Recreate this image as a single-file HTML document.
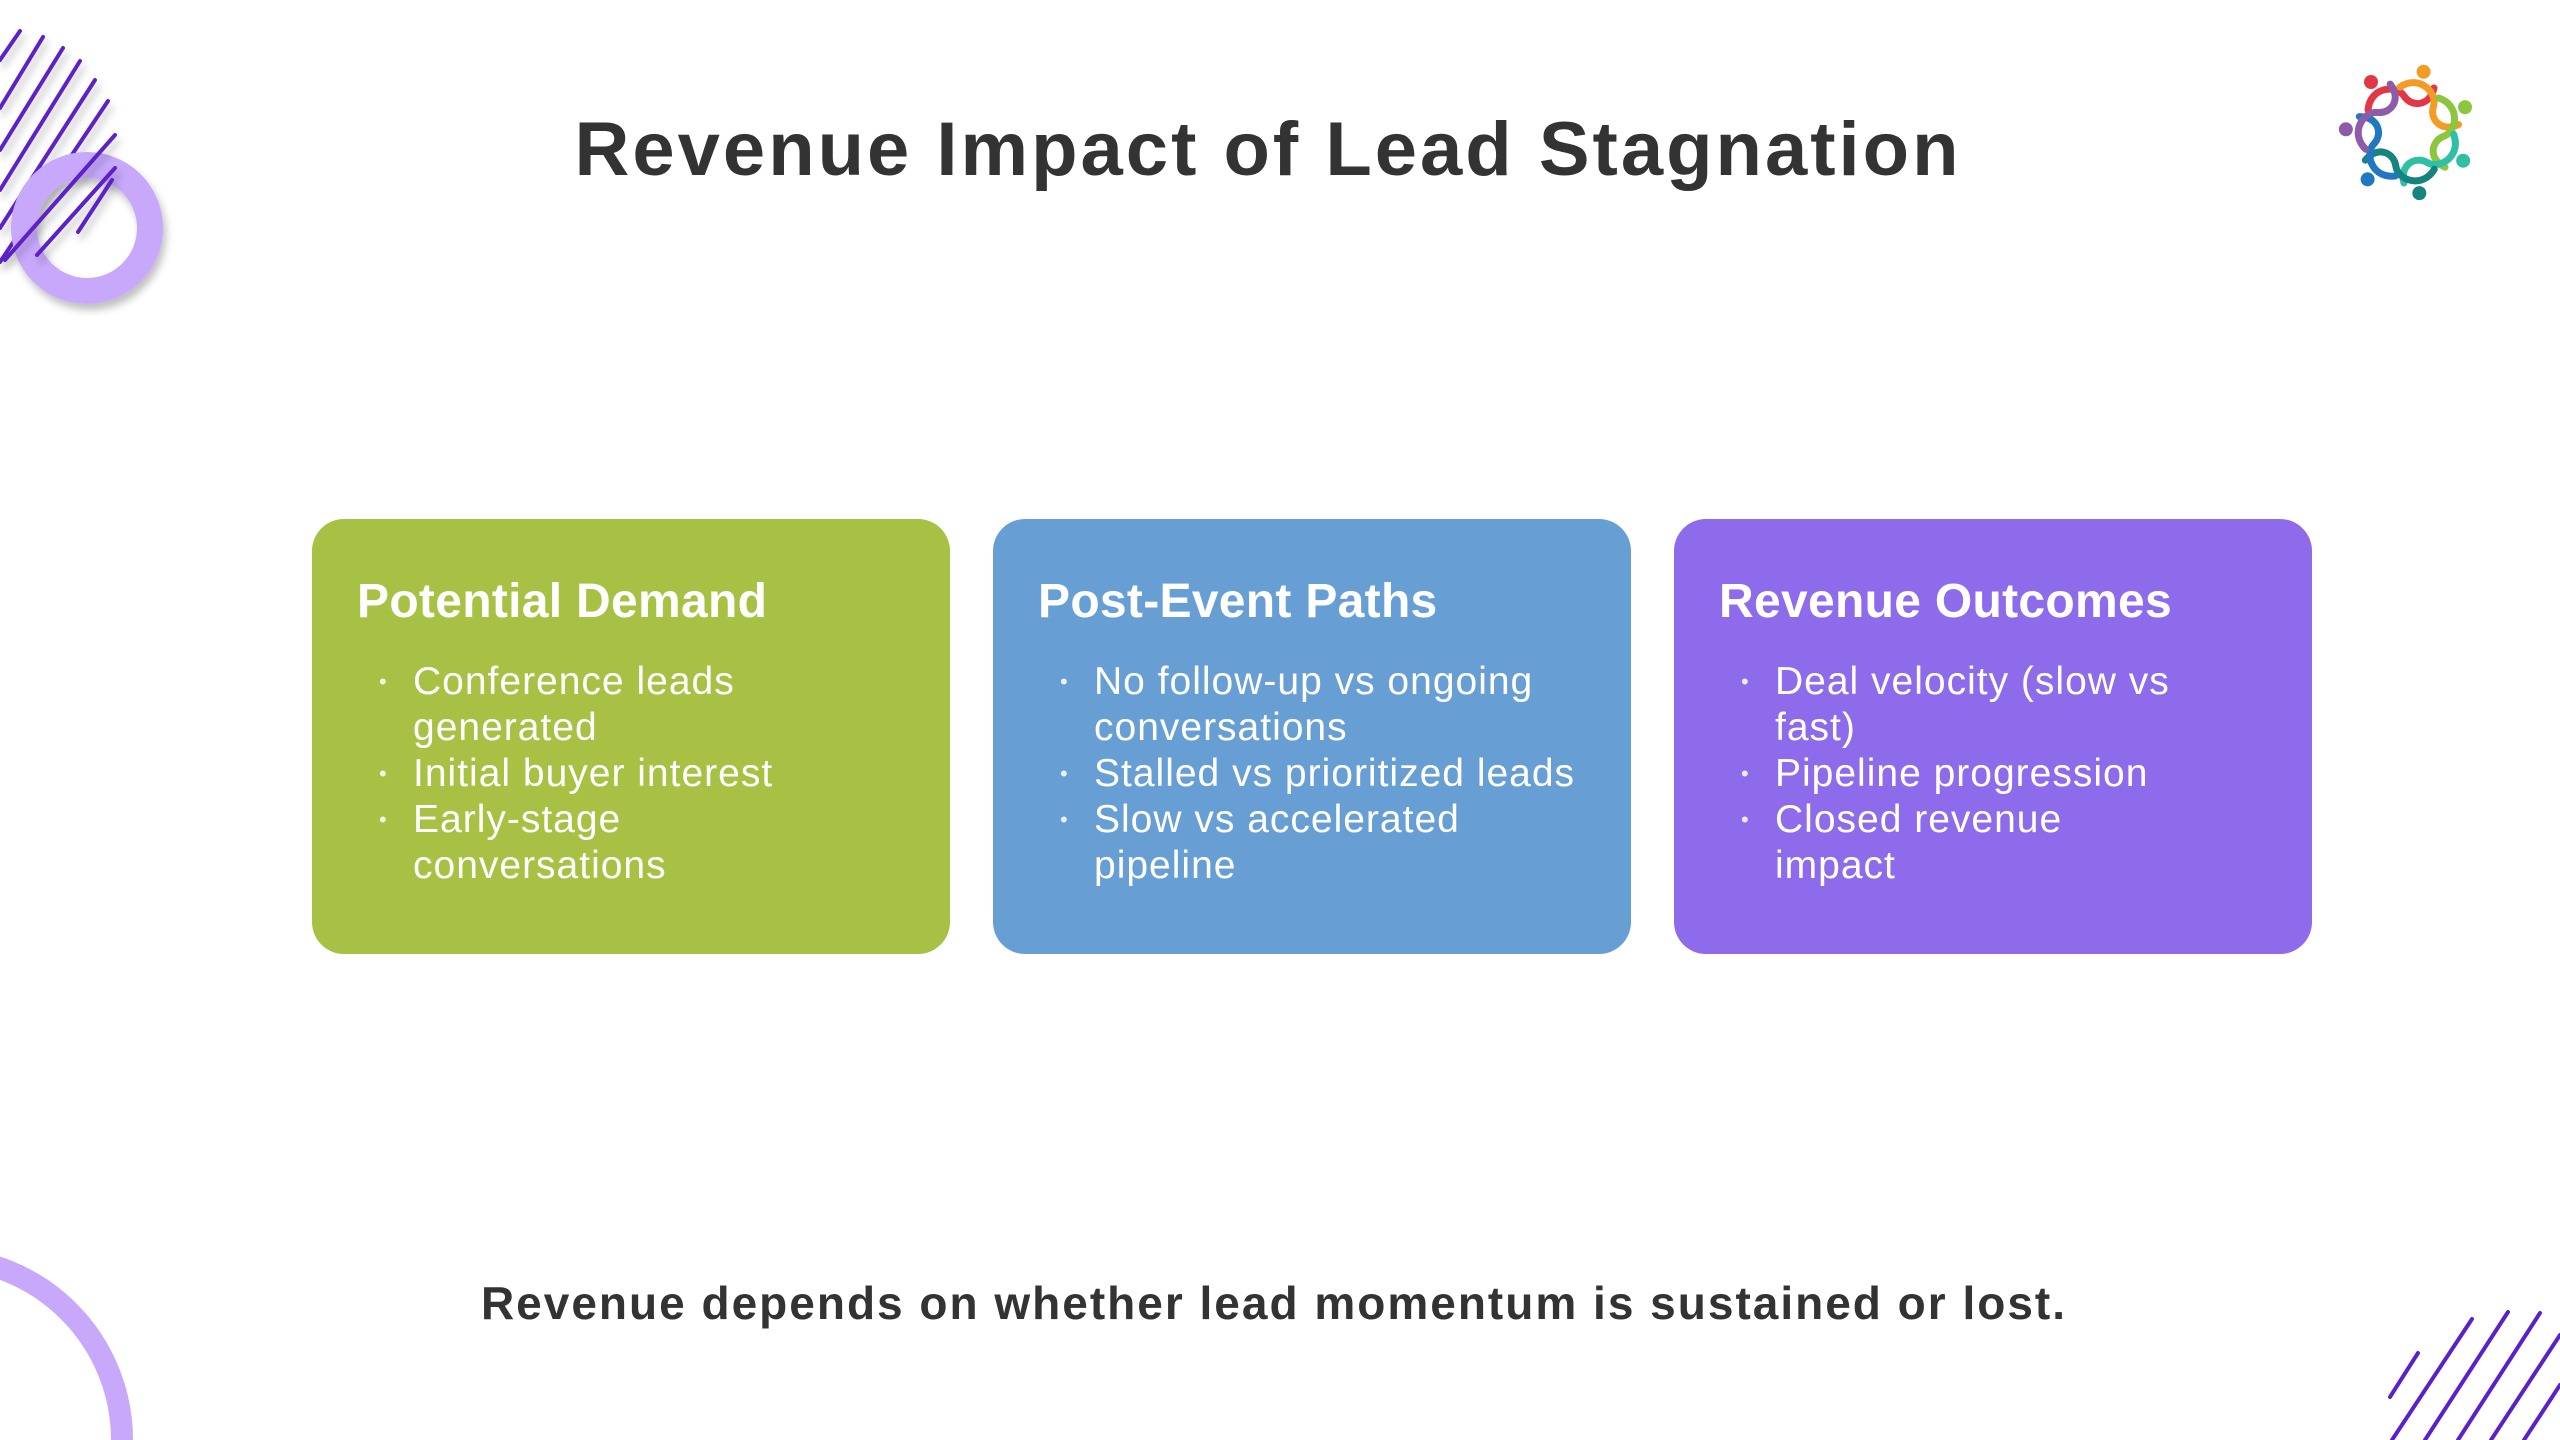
<!DOCTYPE html>
<html><head><meta charset="utf-8"><style>
html,body{margin:0;padding:0;overflow:hidden;width:2560px;height:1440px}
body{position:relative;background:#fff;font-family:"Liberation Sans",sans-serif;color:#333}
svg{display:block}
.title{position:absolute;left:0;width:2536px;top:106px;text-align:center;font-size:76px;letter-spacing:3px;font-weight:bold;color:#333;white-space:nowrap}
.foot{position:absolute;left:0;width:2548px;top:1276px;text-align:center;font-size:46px;letter-spacing:2px;font-weight:bold;color:#333;white-space:nowrap}
.card{position:absolute;top:519px;width:638px;height:435px;border-radius:32px;color:#fff;box-sizing:border-box;padding:56px 0 0 45px;overflow:hidden}
.card h2{margin:0;font-size:48px;letter-spacing:0.3px;font-weight:bold;line-height:54px}
.card ul{margin:30px 0 0 0;padding:0 0 0 56px;list-style:none;font-size:39px;letter-spacing:1px;line-height:46px}
.card li{position:relative;white-space:nowrap}
.card li:before{content:"•";position:absolute;left:-34px;font-size:22px;opacity:.85}
</style></head><body>
<svg width="2560" height="1440" style="position:absolute;left:0;top:0">
<defs><filter id="sh" x="-20%" y="-20%" width="140%" height="140%"><feDropShadow dx="3" dy="6" stdDeviation="4" flood-color="#000" flood-opacity="0.25"/></filter></defs>
<g stroke="#5b21c8" stroke-width="4" stroke-linecap="round" filter="url(#sh)">
<line x1="0" y1="60" x2="20" y2="31"/>
<line x1="0" y1="108" x2="43" y2="37"/>
<line x1="0" y1="150" x2="63" y2="48"/>
<line x1="0" y1="190" x2="80" y2="61"/>
<line x1="0" y1="228" x2="95" y2="80"/>
<line x1="0" y1="262" x2="108" y2="101"/>
</g>
<circle cx="87" cy="228" r="63" fill="none" stroke="#c7a8fb" stroke-width="26" filter="url(#sh)"/>
<g stroke="#5b21c8" stroke-width="4" stroke-linecap="round" filter="url(#sh)">
<line x1="5" y1="260" x2="115" y2="135"/>
<line x1="37" y1="255" x2="115" y2="168"/>
<line x1="78" y1="232" x2="112" y2="180"/>
</g>
<circle cx="-60" cy="1440" r="182" fill="none" stroke="#c7a8fb" stroke-width="22"/>
<g stroke="#5b21c8" stroke-width="4" stroke-linecap="round">
<line x1="2390" y1="1397" x2="2418" y2="1353"/>
<line x1="2392" y1="1440" x2="2472" y2="1319"/>
<line x1="2425" y1="1440" x2="2508" y2="1312"/>
<line x1="2458" y1="1440" x2="2540" y2="1313"/>
<line x1="2491" y1="1440" x2="2560" y2="1335"/>
<line x1="2524" y1="1440" x2="2560" y2="1385"/>
</g>
<g transform="translate(2408,132)" fill="none" stroke-width="7" stroke-linecap="round">
<g><path d="M-40,-22 C-38,-45 -12,-48 -4,-36 C4,-24 22,-26 26,-44" stroke="#e23744"/><circle cx="-37" cy="-50" r="7" fill="#e23744" stroke="none"/></g>
<g transform="rotate(51)"><path d="M-40,-22 C-38,-45 -12,-48 -4,-36 C4,-24 22,-26 26,-44" stroke="#f39c25"/><circle cx="-37" cy="-50" r="7" fill="#f39c25" stroke="none"/></g>
<g transform="rotate(103)"><path d="M-40,-22 C-38,-45 -12,-48 -4,-36 C4,-24 22,-26 26,-44" stroke="#8cc63f"/><circle cx="-37" cy="-50" r="7" fill="#8cc63f" stroke="none"/></g>
<g transform="rotate(154)"><path d="M-40,-22 C-38,-45 -12,-48 -4,-36 C4,-24 22,-26 26,-44" stroke="#2ebfa5"/><circle cx="-37" cy="-50" r="7" fill="#2ebfa5" stroke="none"/></g>
<g transform="rotate(206)"><path d="M-40,-22 C-38,-45 -12,-48 -4,-36 C4,-24 22,-26 26,-44" stroke="#16847e"/><circle cx="-37" cy="-50" r="7" fill="#16847e" stroke="none"/></g>
<g transform="rotate(257)"><path d="M-40,-22 C-38,-45 -12,-48 -4,-36 C4,-24 22,-26 26,-44" stroke="#1f78c1"/><circle cx="-37" cy="-50" r="7" fill="#1f78c1" stroke="none"/></g>
<g transform="rotate(309)"><path d="M-40,-22 C-38,-45 -12,-48 -4,-36 C4,-24 22,-26 26,-44" stroke="#8e5ba8"/><circle cx="-37" cy="-50" r="7" fill="#8e5ba8" stroke="none"/></g>
</g>
</svg>
<div class="title">Revenue Impact of Lead Stagnation</div>
<div class="card" style="left:312px;background:#a6c143">
<h2>Potential Demand</h2>
<ul><li>Conference leads<br>generated</li><li>Initial buyer interest</li><li>Early-stage<br>conversations</li></ul></div>
<div class="card" style="left:993px;background:#679fd5">
<h2>Post-Event Paths</h2>
<ul><li>No follow-up vs ongoing<br>conversations</li><li>Stalled vs prioritized leads</li><li>Slow vs accelerated<br>pipeline</li></ul></div>
<div class="card" style="left:1674px;background:#8e6bea">
<h2>Revenue Outcomes</h2>
<ul><li>Deal velocity (slow vs<br>fast)</li><li>Pipeline progression</li><li>Closed revenue<br>impact</li></ul></div>
<div class="foot">Revenue depends on whether lead momentum is sustained or lost.</div>
</body></html>
